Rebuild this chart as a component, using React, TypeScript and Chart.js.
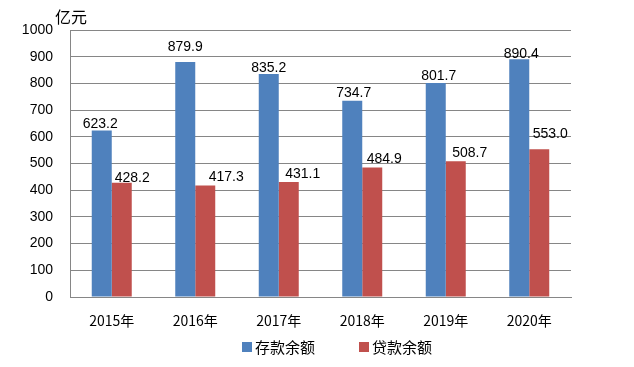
import React, { useEffect, useRef } from "react";
import { Chart, registerables } from "chart.js";

Chart.register(...registerables);

const categories = ["2015年", "2016年", "2017年", "2018年", "2019年", "2020年"];
const depositValues = [623.2, 879.9, 835.2, 734.7, 801.7, 890.4];
const loanValues = [428.2, 417.3, 431.1, 484.9, 508.7, 553.0];
const seriesNames = ["存款余额", "贷款余额"];
const unitLabel = "亿元";

// label placement tweaks (relative to each bar top), as in the reference
const depositLabelDx = [-1.5, 0, 0, 1.5, 3, 2];
const depositLabelGap = [3, 11, 2, 4, 3, 1];
const loanLabelDx = [10.5, 21, 14, 12, 14, 11];
const loanLabelGap = [1, 5, 4, 5, 4, 11];

const BLUE = "#4F81BD";
const RED = "#C0504D";
const GRID = "#868686";
const LATIN = "'Liberation Sans', Arial, sans-serif";
const CJK = "'Noto Sans CJK SC', 'Liberation Sans', sans-serif";

export default function App() {
  const ref = useRef<HTMLCanvasElement | null>(null);

  useEffect(() => {
    document.body.style.margin = "0";
    const canvas = ref.current;
    if (!canvas) return;

    const extras = {
      id: "extras",
      afterDatasetsDraw(chart: any) {
        const ctx = chart.ctx;
        ctx.save();
        ctx.fillStyle = "#000";
        ctx.font = `14px ${LATIN}`;
        ctx.textAlign = "center";
        ctx.textBaseline = "alphabetic";
        const dxs = [depositLabelDx, loanLabelDx];
        const gaps = [depositLabelGap, loanLabelGap];
        chart.data.datasets.forEach((ds: any, di: number) => {
          const meta = chart.getDatasetMeta(di);
          meta.data.forEach((bar: any, i: number) => {
            const v = ds.data[i] as number;
            ctx.fillText(v.toFixed(1), bar.x + dxs[di][i], bar.y - gaps[di][i]);
          });
        });
        // unit label
        ctx.font = `16px ${CJK}`;
        ctx.textAlign = "left";
        ctx.textBaseline = "middle";
        ctx.fillText(unitLabel, 55, 17);
        // legend
        const items = chart.data.datasets;
        const legendY = 347;
        ctx.font = `15px ${CJK}`;
        const boxes = [242, 359];
        items.forEach((ds: any, i: number) => {
          ctx.fillStyle = ds.backgroundColor;
          ctx.fillRect(boxes[i], legendY - 5, 10, 10);
          ctx.fillStyle = "#000";
          ctx.fillText(ds.label, boxes[i] + 13, legendY);
        });
        ctx.restore();
      },
    };

    const chart = new Chart(canvas, {
      type: "bar",
      data: {
        labels: categories,
        datasets: [
          { label: seriesNames[0], data: depositValues, backgroundColor: BLUE },
          { label: seriesNames[1], data: loanValues, backgroundColor: RED },
        ],
      },
      options: {
        animation: false,
        responsive: false,
        devicePixelRatio: 1,
        layout: { padding: { left: 10, right: 63, top: 30, bottom: 0 } },
        datasets: {
          bar: { categoryPercentage: 0.479, barPercentage: 1.0 },
        },
        plugins: {
          legend: { display: false },
          tooltip: { enabled: false },
        },
        scales: {
          x: {
            grid: { display: false, drawTicks: false },
            border: { display: true, color: GRID, width: 1 },
            ticks: { color: "#000", font: { size: 14, family: CJK }, padding: 15 },
            afterFit(scale: any) {
              scale.height = 70;
            },
          },
          y: {
            min: 0,
            max: 1000,
            ticks: {
              stepSize: 100,
              color: "#000",
              font: { size: 14, family: LATIN },
              padding: 17,
              callback: (v: any) => String(v),
            },
            grid: { color: GRID, drawTicks: false, lineWidth: 1 },
            border: { display: true, color: GRID, width: 1 },
            afterFit(scale: any) {
              scale.width = 60;
            },
          },
        },
      },
      plugins: [extras],
    });
    return () => chart.destroy();
  }, []);

  return (
    <div style={{ width: 634, height: 367 }}>
      <canvas ref={ref} width={634} height={367} style={{ display: "block" }} />
    </div>
  );
}
